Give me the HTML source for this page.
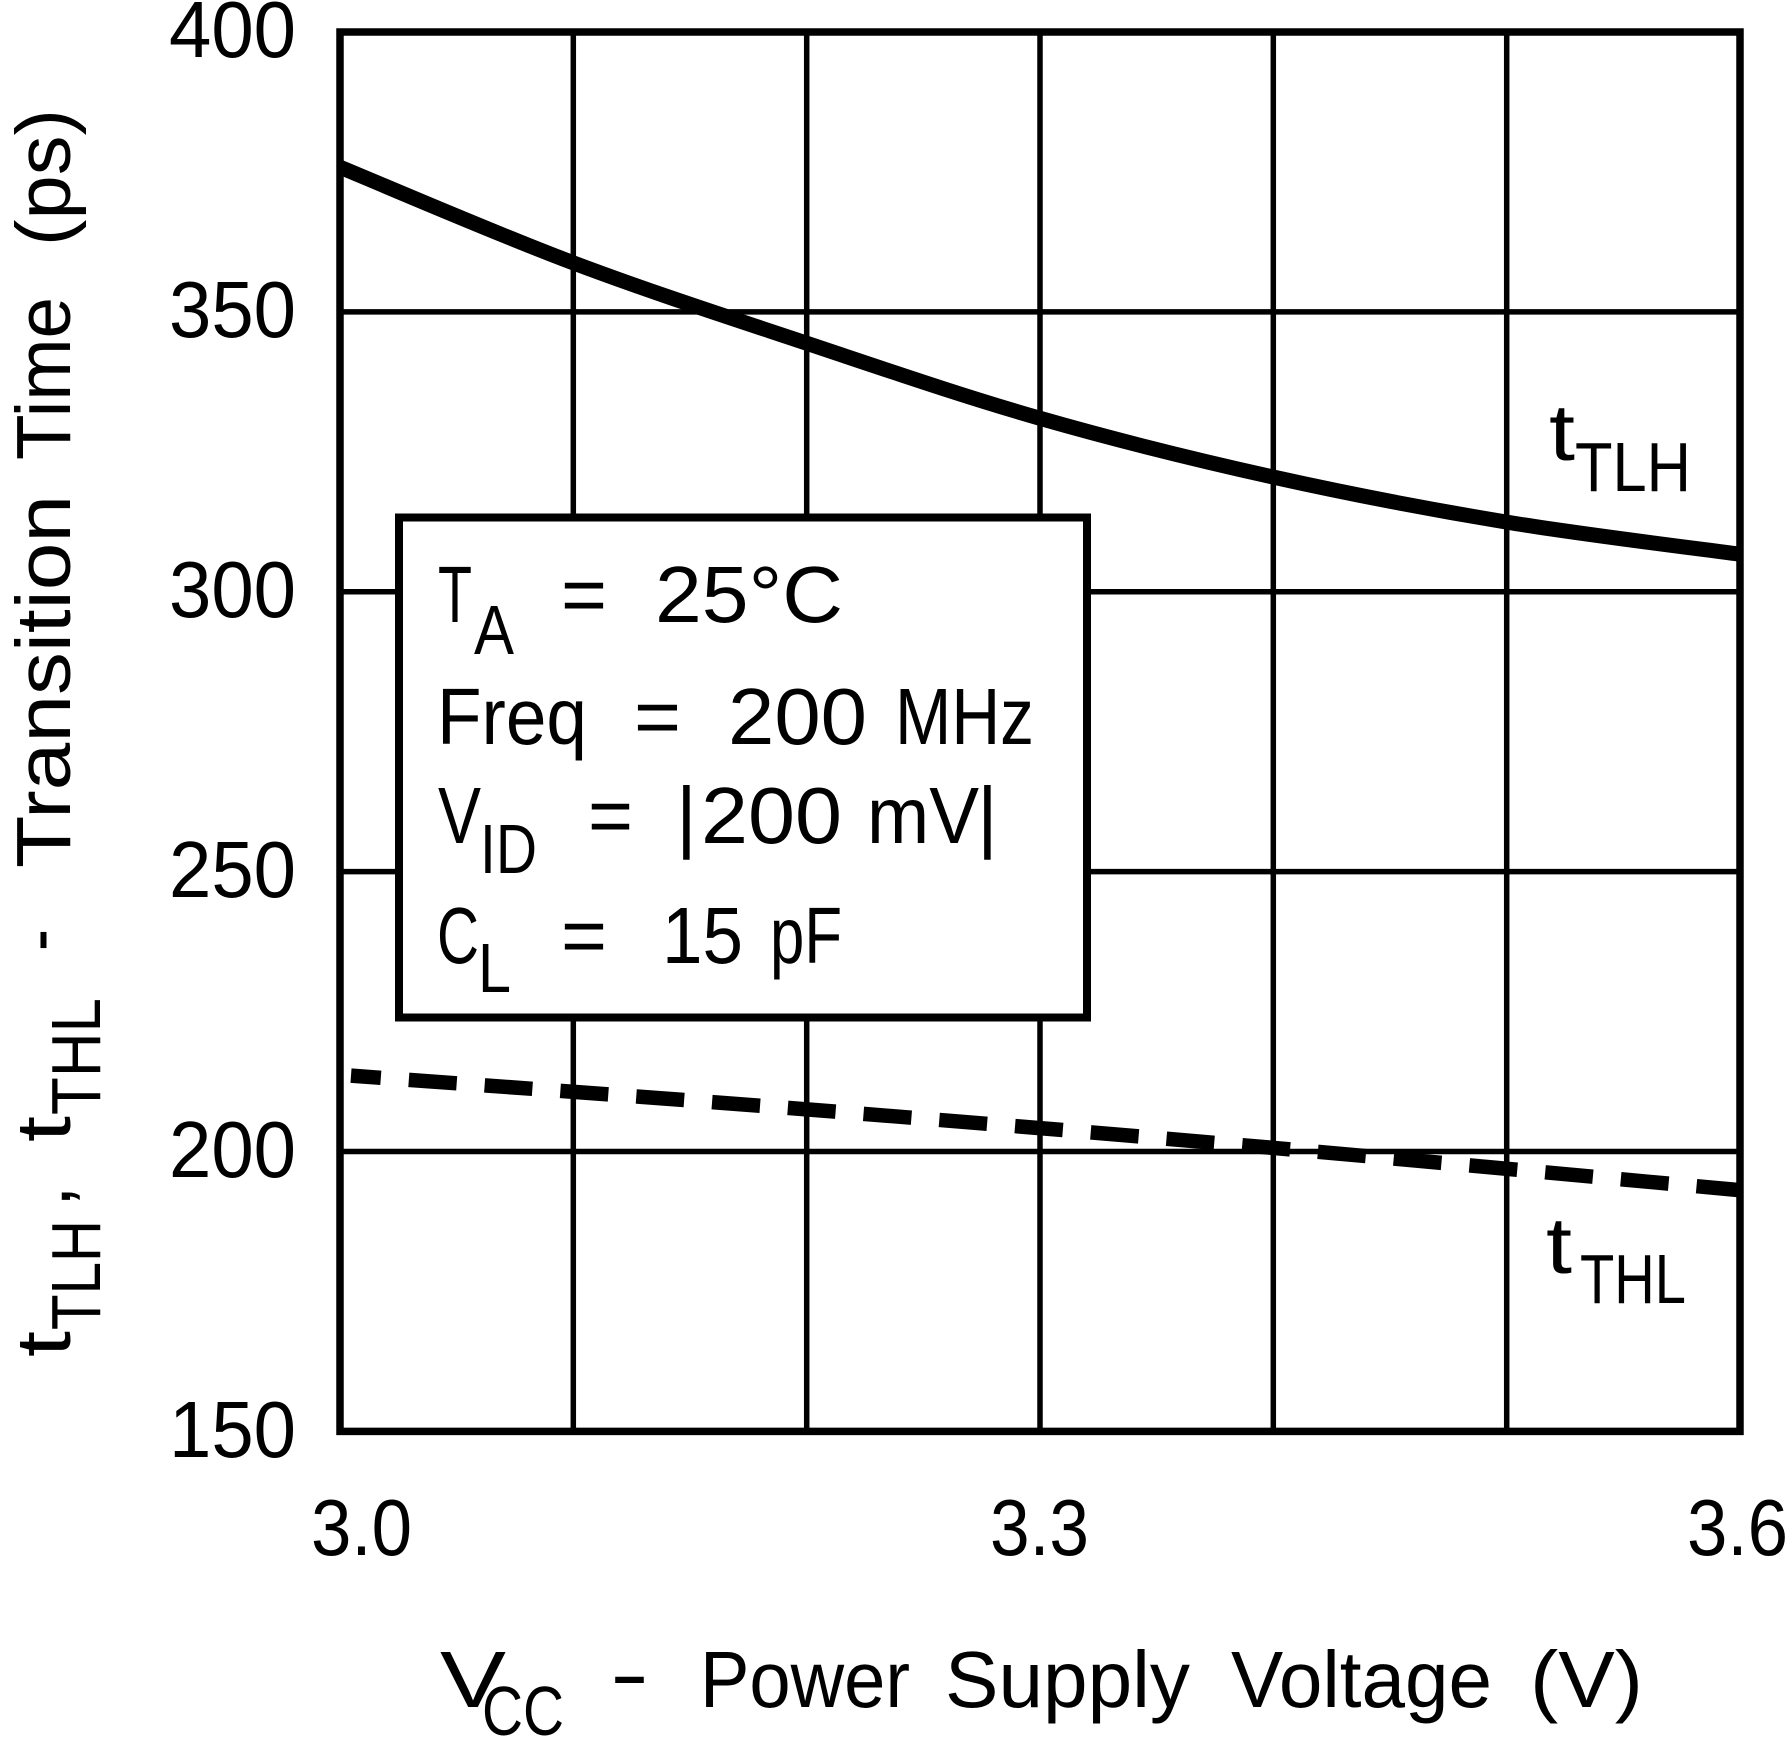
<!DOCTYPE html>
<html>
<head>
<meta charset="utf-8">
<style>
  html, body { margin: 0; padding: 0; background: #ffffff; }
  svg { display: block; }
  text { font-family: "Liberation Sans", "DejaVu Sans", sans-serif; fill: #000; font-weight: normal; }
</style>
</head>
<body>
<svg width="1788" height="1737" viewBox="0 0 1788 1737" xmlns="http://www.w3.org/2000/svg">
  <rect x="0" y="0" width="1788" height="1737" fill="#ffffff"/>
  <defs>
    <clipPath id="plot">
      <rect x="340" y="32" width="1400" height="1399.4"/>
    </clipPath>
  </defs>

  <!-- inner grid -->
  <g stroke="#000" stroke-width="5.5" fill="none">
    <line x1="573.3" y1="32" x2="573.3" y2="1431.4"/>
    <line x1="806.7" y1="32" x2="806.7" y2="1431.4"/>
    <line x1="1040" y1="32" x2="1040" y2="1431.4"/>
    <line x1="1273.3" y1="32" x2="1273.3" y2="1431.4"/>
    <line x1="1506.7" y1="32" x2="1506.7" y2="1431.4"/>
    <line x1="340" y1="311.9" x2="1740" y2="311.9"/>
    <line x1="340" y1="591.8" x2="1740" y2="591.8"/>
    <line x1="340" y1="871.6" x2="1740" y2="871.6"/>
    <line x1="340" y1="1151.5" x2="1740" y2="1151.5"/>
  </g>

  <!-- curves -->
  <g clip-path="url(#plot)" fill="none" stroke="#000">
    <path stroke-width="15" d="M330,163 L342,168 C380.2,183.7 493.7,232.8 571,262 C648.3,291.2 728,317 806,343 C884,369 961.2,395.7 1039,418 C1116.8,440.3 1195.2,459.7 1273,477 C1350.8,494.3 1428.5,509.2 1506,522 C1583.5,534.8 1699.3,548.7 1738,554 L1752,556"/>
    <path stroke-width="14.5" stroke-dasharray="48 28" stroke-dashoffset="18" d="M351,1075.6 C426.2,1081.2 650,1097.1 802,1109 C954,1120.9 1107,1133.5 1263,1147 C1419,1160.5 1658.8,1182.8 1738,1190 L1750,1191"/>
  </g>

  <!-- legend box -->
  <rect x="399" y="517.5" width="688" height="500" fill="#ffffff" stroke="#000" stroke-width="8"/>

  <!-- border -->
  <rect x="340" y="32" width="1400" height="1399.4" fill="none" stroke="#000" stroke-width="7.5"/>

  <!-- y tick labels -->
  <g font-size="80">
    <text x="169" y="57" textLength="127" lengthAdjust="spacingAndGlyphs">400</text>
    <text x="169" y="337" textLength="127" lengthAdjust="spacingAndGlyphs">350</text>
    <text x="169" y="617" textLength="127" lengthAdjust="spacingAndGlyphs">300</text>
    <text x="169" y="897" textLength="127" lengthAdjust="spacingAndGlyphs">250</text>
    <text x="169" y="1177" textLength="127" lengthAdjust="spacingAndGlyphs">200</text>
    <text x="169" y="1457" textLength="127" lengthAdjust="spacingAndGlyphs">150</text>
  </g>

  <!-- x tick labels -->
  <g font-size="80">
    <text x="311" y="1555" textLength="101" lengthAdjust="spacingAndGlyphs">3.0</text>
    <text x="990" y="1555" textLength="99" lengthAdjust="spacingAndGlyphs">3.3</text>
    <text x="1687" y="1555" textLength="101" lengthAdjust="spacingAndGlyphs">3.6</text>
  </g>

  <!-- x axis title -->
  <g font-size="80">
    <text x="440" y="1707" textLength="66" lengthAdjust="spacingAndGlyphs">V</text>
    <text x="482" y="1735" font-size="70" textLength="82" lengthAdjust="spacingAndGlyphs">CC</text>
    <text x="610" y="1701" textLength="39" lengthAdjust="spacingAndGlyphs">-</text>
    <text x="700" y="1707" textLength="210" lengthAdjust="spacingAndGlyphs">Power</text>
    <text x="945" y="1707" textLength="245" lengthAdjust="spacingAndGlyphs">Supply</text>
    <text x="1231" y="1707" textLength="261" lengthAdjust="spacingAndGlyphs">Voltage</text>
    <text x="1530" y="1707" textLength="113" lengthAdjust="spacingAndGlyphs">(V)</text>
  </g>

  <!-- y axis title (rotated) -->
  <g transform="rotate(-90)" font-size="77">
    <text x="-1357" y="70" textLength="26" lengthAdjust="spacingAndGlyphs">t</text>
    <text x="-1330" y="100" font-size="70" textLength="110" lengthAdjust="spacingAndGlyphs">TLH</text>
    <text x="-1207" y="70">,</text>
    <text x="-1142" y="70" textLength="26" lengthAdjust="spacingAndGlyphs">t</text>
    <text x="-1115" y="100" font-size="70" textLength="117" lengthAdjust="spacingAndGlyphs">THL</text>
    <text x="-951" y="64" textLength="22" lengthAdjust="spacingAndGlyphs">-</text>
    <text x="-868" y="70" textLength="373" lengthAdjust="spacingAndGlyphs">Transition</text>
    <text x="-460" y="70" textLength="163" lengthAdjust="spacingAndGlyphs">Time</text>
    <text x="-246" y="70" textLength="137" lengthAdjust="spacingAndGlyphs">(ps)</text>
  </g>

  <!-- curve labels -->
  <g font-size="80">
    <text x="1549" y="460" textLength="26" lengthAdjust="spacingAndGlyphs">t</text>
    <text x="1575" y="491" font-size="70" textLength="116" lengthAdjust="spacingAndGlyphs">TLH</text>
    <text x="1546" y="1273" textLength="26" lengthAdjust="spacingAndGlyphs">t</text>
    <text x="1580" y="1303" font-size="70" textLength="106" lengthAdjust="spacingAndGlyphs">THL</text>
  </g>

  <!-- legend text -->
  <g font-size="80">
    <!-- line 1 -->
    <text x="438" y="622" textLength="34" lengthAdjust="spacingAndGlyphs">T</text>
    <text x="474" y="654" font-size="70" textLength="40" lengthAdjust="spacingAndGlyphs">A</text>
    <text x="561" y="622" textLength="46" lengthAdjust="spacingAndGlyphs">=</text>
    <text x="655" y="622" textLength="188" lengthAdjust="spacingAndGlyphs">25°C</text>
    <!-- line 2 -->
    <text x="437" y="744" textLength="150" lengthAdjust="spacingAndGlyphs">Freq</text>
    <text x="634" y="744" textLength="47" lengthAdjust="spacingAndGlyphs">=</text>
    <text x="728" y="744" textLength="139" lengthAdjust="spacingAndGlyphs">200</text>
    <text x="895" y="744" textLength="139" lengthAdjust="spacingAndGlyphs">MHz</text>
    <!-- line 3 -->
    <text x="438" y="843" textLength="43" lengthAdjust="spacingAndGlyphs">V</text>
    <text x="480" y="873" font-size="70" textLength="57" lengthAdjust="spacingAndGlyphs">ID</text>
    <text x="588" y="843" textLength="45" lengthAdjust="spacingAndGlyphs">=</text>
    <text x="676" y="843">|</text>
    <text x="701" y="843" textLength="141" lengthAdjust="spacingAndGlyphs">200</text>
    <text x="867" y="843" textLength="112" lengthAdjust="spacingAndGlyphs">mV</text>
    <text x="977" y="843">|</text>
    <!-- line 4 -->
    <text x="437" y="963" textLength="42" lengthAdjust="spacingAndGlyphs">C</text>
    <text x="478" y="992" font-size="70" textLength="33" lengthAdjust="spacingAndGlyphs">L</text>
    <text x="561" y="963" textLength="46" lengthAdjust="spacingAndGlyphs">=</text>
    <text x="662" y="963" textLength="81" lengthAdjust="spacingAndGlyphs">15</text>
    <text x="770" y="963" textLength="72" lengthAdjust="spacingAndGlyphs">pF</text>
  </g>
</svg>
</body>
</html>
